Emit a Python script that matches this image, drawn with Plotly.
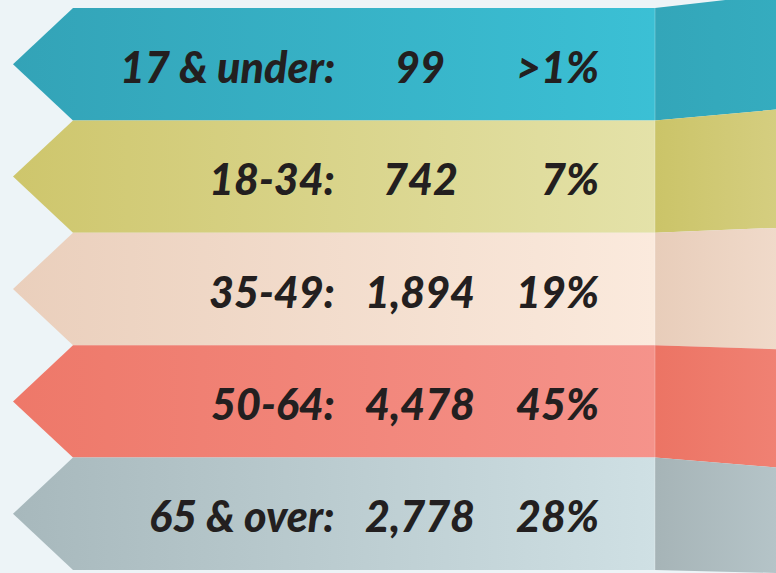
import plotly.graph_objects as go

# ---- data ----
age_groups = ["17 & under:", "18-34:", "35-49:", "50-64:", "65 & over:"]
counts = ["99", "742", "1,894", "4,478", "2,778"]
shares = [">1%", "7%", "19%", "45%", "28%"]

front_colors = [("#33A3B7", "#3BC0D5"), ("#CEC66C", "#E4E2A9"), ("#EACFBC", "#FBEADD"),
                ("#EE7869", "#F5938B"), ("#A7B8BC", "#CFE0E4")]
fold_colors = [("#33A6B9", "#35ACBF"), ("#CBC468", "#D5CE80"), ("#E8CDBA", "#F0DACA"),
               ("#EC7464", "#F08173"), ("#A6B4B7", "#B5C4C8")]

W, H = 776, 573
top0, band_h = 8, 112.4
tip_x, body_x, fold_x = 13, 73, 655
fold_offsets = [-14, -11, -5, 4, 10, 3]

fig = go.Figure()
n = len(age_groups)
for i in range(n):
    t = top0 + i * band_h
    b = t + band_h
    m = (t + b) / 2
    c0, c1 = front_colors[i]
    fig.add_trace(go.Scatter(
        x=[tip_x, body_x, fold_x, fold_x, body_x, tip_x],
        y=[m, t, t, b, b, m],
        mode="lines", line=dict(width=0), fill="toself",
        fillgradient=dict(type="horizontal", colorscale=[[0, c0], [1, c1]]),
        hoverinfo="skip", showlegend=False))
    f0, f1 = fold_colors[i]
    fig.add_trace(go.Scatter(
        x=[fold_x, W + 2, W + 2, fold_x, fold_x],
        y=[t, t + fold_offsets[i], b + fold_offsets[i + 1], b, t],
        mode="lines", line=dict(width=0), fill="toself",
        fillgradient=dict(type="horizontal", colorscale=[[0, f0], [1, f1]]),
        hoverinfo="skip", showlegend=False))
    fnt = dict(family="Lato", size=43, color="#231F20", weight=900, style="italic")
    yc = m + 2
    fig.add_annotation(x=337, y=yc, text=age_groups[i], xanchor="right", yanchor="middle",
                       showarrow=False, font=fnt)
    fig.add_annotation(x=420, y=yc, text=counts[i], xanchor="center", yanchor="middle",
                       showarrow=False, font=fnt)
    fig.add_annotation(x=601, y=yc, text=shares[i], xanchor="right", yanchor="middle",
                       showarrow=False, font=fnt)

fig.add_shape(type="line", x0=fold_x, x1=fold_x, y0=top0, y1=top0 + n * band_h,
              line=dict(color="rgba(255,255,255,0.25)", width=1), layer="above")

fig.update_layout(
    width=W, height=H, margin=dict(l=0, r=0, t=0, b=0),
    paper_bgcolor="#EDF4F7", plot_bgcolor="#EDF4F7",
    xaxis=dict(range=[0, W], visible=False, fixedrange=True),
    yaxis=dict(range=[H, 0], visible=False, fixedrange=True),
)
fig.write_html(
    "out.html",
    config={"displayModeBar": False},
    post_script="document.body.style.margin='0';document.body.style.background='#EDF4F7';",
)
